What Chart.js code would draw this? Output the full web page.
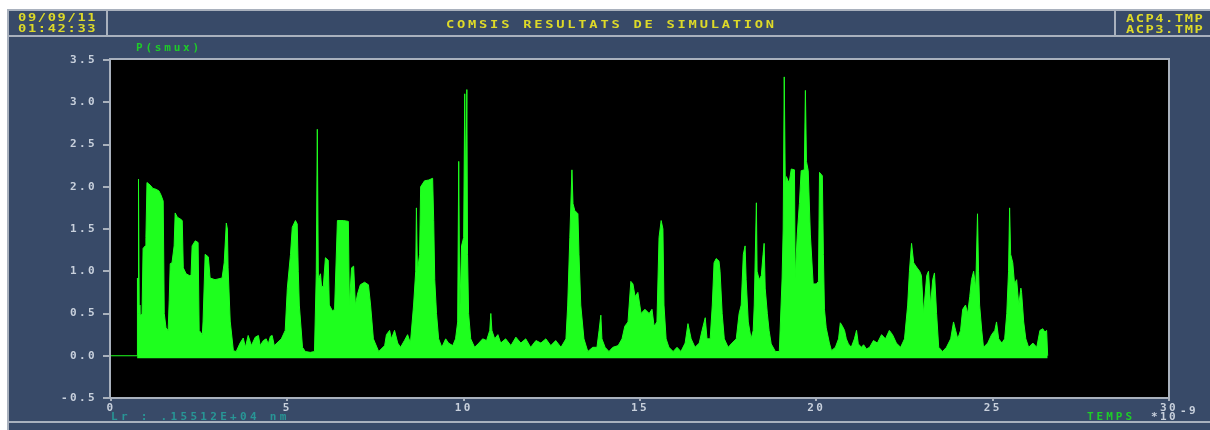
<!DOCTYPE html>
<html>
<head>
<meta charset="utf-8">
<script src="https://cdn.jsdelivr.net/npm/chart.js@4/dist/chart.umd.min.js"></script>
<style>
  body { margin: 0; width: 1210px; height: 430px; overflow: hidden; position: relative; background: #fff;
         font-family: "DejaVu Sans Mono", monospace; font-weight: bold; }
  .abs { position: absolute; white-space: nowrap; }
  #panel { left: 7px; top: 9px; width: 1203px; height: 421px; background: rgb(56,74,104); }
  .rule { background: #a9b1bd; }
  .wide { transform: scaleX(1.25); transform-origin: left top; }
  .yel { color: rgb(222,218,40); font-size: 11px; line-height: 11px; letter-spacing: 1.3px; }
  .grn { color: rgb(30,205,40); font-size: 11px; line-height: 11px; }
  #chart { position: absolute; left: 0; top: 0; }
</style>
</head>
<body>
<div id="panel" class="abs"></div>
<!-- frame lines -->
<div class="abs rule" style="left:7px;top:9px;width:1203px;height:2px"></div>
<div class="abs rule" style="left:7px;top:9px;width:2px;height:421px"></div>
<div class="abs rule" style="left:8px;top:35px;width:1202px;height:2px"></div>
<div class="abs rule" style="left:106px;top:9px;width:2px;height:27px"></div>
<div class="abs rule" style="left:1114px;top:9px;width:2px;height:27px"></div>
<div class="abs rule" style="left:8px;top:421px;width:1202px;height:2px"></div>

<canvas id="chart" width="1210" height="430"></canvas>

<!-- header texts -->
<div class="abs yel wide" style="left:18px;top:12px">09/09/11</div>
<div class="abs yel wide" style="left:18px;top:23px">01:42:33</div>
<div class="abs yel wide" style="left:446px;top:19px;letter-spacing:2.2px">COMSIS RESULTATS DE SIMULATION</div>
<div class="abs yel wide" style="left:1126px;top:13px;letter-spacing:1.2px">ACP4.TMP</div>
<div class="abs yel wide" style="left:1126px;top:24px;letter-spacing:1.2px">ACP3.TMP</div>

<div class="abs grn" style="left:136px;top:42px;letter-spacing:2.8px">P(smux)</div>
<div class="abs" style="left:111px;top:411px;font-size:11px;line-height:11px;letter-spacing:3.3px;color:rgb(40,150,150)">Lr : .15512E+04 nm</div>
<div class="abs grn" style="left:1087px;top:411px;letter-spacing:3px">TEMPS</div>
<div class="abs" style="left:1151px;top:411px;font-size:11px;line-height:11px;letter-spacing:2.4px;color:#c8d0dc">*10</div>
<div class="abs" style="left:1180px;top:405px;font-size:11px;line-height:11px;letter-spacing:2.4px;color:#c8d0dc">-9</div>

<script>
// temps (ns) and P(smux)
const baseTimes = [0, 0.74];
const baseValues = [0, 0];

const timeNs = [
  0.74, 0.75, 0.77, 0.78, 0.80, 0.82, 0.88, 0.91, 0.97, 0.99, 1.02, 1.11, 1.19, 1.28, 1.36, 1.42, 1.48, 1.51, 1.56, 1.62,
  1.65, 1.68, 1.73, 1.79, 1.82, 1.88, 1.96, 2.02, 2.05, 2.13, 2.22, 2.27, 2.30, 2.39, 2.47, 2.50, 2.59, 2.61, 2.67, 2.76,
  2.81, 2.95, 3.15, 3.21, 3.27, 3.30, 3.32, 3.38, 3.47, 3.55, 3.66, 3.75, 3.81, 3.89, 3.98, 4.09, 4.18, 4.23, 4.32, 4.40,
  4.46, 4.52, 4.57, 4.63, 4.83, 4.94, 5.00, 5.09, 5.14, 5.23, 5.28, 5.31, 5.34, 5.43, 5.51, 5.65, 5.77, 5.82, 5.85, 5.88,
  5.94, 5.97, 6.02, 6.08, 6.16, 6.19, 6.28, 6.34, 6.42, 6.59, 6.73, 6.76, 6.82, 6.88, 6.93, 6.99, 7.07, 7.19, 7.30, 7.36,
  7.44, 7.59, 7.76, 7.81, 7.90, 7.95, 8.04, 8.13, 8.21, 8.32, 8.41, 8.49, 8.58, 8.64, 8.66, 8.69, 8.75, 8.78, 8.89, 9.01,
  9.12, 9.15, 9.18, 9.23, 9.29, 9.38, 9.49, 9.57, 9.69, 9.77, 9.83, 9.86, 9.89, 9.94, 10.00, 10.03, 10.06, 10.09, 10.11, 10.14,
  10.20, 10.31, 10.43, 10.54, 10.65, 10.74, 10.77, 10.80, 10.88, 10.97, 11.05, 11.19, 11.34, 11.48, 11.62, 11.76, 11.90, 12.05, 12.19, 12.33,
  12.47, 12.61, 12.76, 12.90, 12.95, 13.01, 13.07, 13.10, 13.15, 13.24, 13.27, 13.32, 13.41, 13.52, 13.66, 13.78, 13.84, 13.89, 13.92, 14.01,
  14.12, 14.23, 14.38, 14.49, 14.57, 14.66, 14.74, 14.80, 14.86, 14.94, 15.03, 15.14, 15.26, 15.34, 15.40, 15.48, 15.54, 15.60, 15.65, 15.68,
  15.74, 15.82, 15.94, 16.05, 16.16, 16.28, 16.36, 16.45, 16.56, 16.68, 16.76, 16.85, 16.90, 16.99, 17.05, 17.10, 17.16, 17.24, 17.27, 17.33,
  17.39, 17.50, 17.61, 17.73, 17.81, 17.87, 17.93, 17.98, 18.01, 18.07, 18.15, 18.21, 18.24, 18.30, 18.32, 18.38, 18.44, 18.49, 18.52, 18.55,
  18.61, 18.66, 18.72, 18.84, 18.95, 19.03, 19.06, 19.09, 19.12, 19.15, 19.20, 19.23, 19.29, 19.38, 19.40, 19.46, 19.52, 19.57, 19.66, 19.69,
  19.72, 19.77, 19.83, 19.91, 20.00, 20.06, 20.09, 20.17, 20.20, 20.23, 20.28, 20.37, 20.43, 20.54, 20.63, 20.68, 20.74, 20.80, 20.85, 20.91,
  20.99, 21.08, 21.14, 21.19, 21.28, 21.34, 21.42, 21.51, 21.62, 21.73, 21.85, 21.96, 22.07, 22.16, 22.27, 22.39, 22.50, 22.59, 22.64, 22.70,
  22.76, 22.84, 22.93, 22.98, 23.04, 23.13, 23.18, 23.24, 23.30, 23.35, 23.41, 23.47, 23.58, 23.69, 23.81, 23.89, 23.95, 24.01, 24.09, 24.15,
  24.23, 24.29, 24.35, 24.40, 24.46, 24.52, 24.57, 24.60, 24.63, 24.69, 24.74, 24.86, 24.97, 25.06, 25.11, 25.17, 25.26, 25.34, 25.40, 25.45,
  25.48, 25.51, 25.57, 25.62, 25.68, 25.74, 25.80, 25.82, 25.88, 25.94, 26.02, 26.14, 26.25, 26.34, 26.42, 26.48, 26.53, 26.56
];

const powerSmux = [
  0.0, 0.92, 0.5, 2.09, 0.6, 0.47, 0.5, 1.27, 1.3, 1.4, 2.05, 2.02, 1.98, 1.97, 1.95, 1.9, 1.83, 0.5, 0.33, 0.3,
  0.65, 1.09, 1.1, 1.3, 1.69, 1.64, 1.62, 1.6, 1.04, 0.97, 0.95, 0.95, 1.3, 1.36, 1.34, 0.3, 0.25, 0.4, 1.2, 1.17,
  0.92, 0.9, 0.92, 1.1, 1.57, 1.5, 1.04, 0.41, 0.06, 0.05, 0.15, 0.21, 0.1, 0.24, 0.12, 0.22, 0.24, 0.12, 0.18, 0.2,
  0.14, 0.23, 0.24, 0.12, 0.2, 0.3, 0.8, 1.2, 1.52, 1.6, 1.56, 1.0, 0.6, 0.1, 0.05, 0.04, 0.05, 0.97, 2.68, 0.9,
  0.97, 0.82, 0.82, 1.16, 1.13, 0.6, 0.53, 0.55, 1.6, 1.6, 1.59, 0.6, 1.04, 1.06, 0.6, 0.73, 0.84, 0.87, 0.84, 0.6,
  0.2, 0.05, 0.12, 0.25, 0.3, 0.2, 0.3, 0.15, 0.1, 0.18, 0.25, 0.15, 0.6, 1.0, 1.75, 1.0, 1.2, 2.0, 2.07, 2.08,
  2.1, 1.6, 0.9, 0.5, 0.2, 0.1, 0.2, 0.15, 0.12, 0.2, 0.4, 2.3, 0.5, 1.3, 1.4, 3.1, 1.8, 3.15, 1.2, 0.5,
  0.2, 0.1, 0.15, 0.2, 0.18, 0.3, 0.5, 0.3, 0.2, 0.25, 0.15, 0.2, 0.12, 0.22, 0.15, 0.2, 0.1, 0.18, 0.15, 0.2,
  0.12, 0.18, 0.1, 0.2, 0.6, 1.4, 2.2, 1.8, 1.72, 1.68, 1.2, 0.6, 0.2, 0.05, 0.1, 0.1, 0.3, 0.48, 0.2, 0.1,
  0.05, 0.1, 0.12, 0.2, 0.35, 0.4, 0.88, 0.85, 0.7, 0.75, 0.5, 0.55, 0.5, 0.55, 0.35, 0.4, 1.4, 1.6, 1.5, 0.6,
  0.2, 0.1, 0.05, 0.1, 0.05, 0.15, 0.38, 0.2, 0.1, 0.15, 0.3, 0.45, 0.2, 0.2, 0.6, 1.1, 1.15, 1.12, 1.0, 0.5,
  0.2, 0.1, 0.15, 0.2, 0.5, 0.6, 1.2, 1.3, 0.9, 0.4, 0.2, 0.3, 0.6, 1.81, 1.0, 0.9, 0.95, 1.2, 1.33, 0.8,
  0.5, 0.3, 0.14, 0.05, 0.05, 0.92, 1.5, 3.3, 2.0, 2.12, 2.07, 2.05, 2.21, 2.2, 0.92, 1.44, 1.8, 2.19, 2.2, 3.14,
  2.3, 2.19, 1.44, 0.85, 0.85, 0.88, 2.17, 2.13, 1.2, 0.55, 0.33, 0.15, 0.06, 0.1, 0.2, 0.39, 0.35, 0.3, 0.2, 0.14,
  0.1, 0.2, 0.3, 0.14, 0.1, 0.13, 0.08, 0.1, 0.18, 0.15, 0.25, 0.2, 0.3, 0.25, 0.15, 0.1, 0.2, 0.6, 1.0, 1.33,
  1.1, 1.05, 1.0, 0.95, 0.5, 0.95, 1.0, 0.6, 0.9, 0.98, 0.5, 0.1, 0.05, 0.1, 0.2, 0.4, 0.3, 0.2, 0.3, 0.55,
  0.6, 0.5, 0.7, 0.9, 1.0, 0.8, 1.68, 1.0, 0.6, 0.3, 0.1, 0.15, 0.25, 0.3, 0.4, 0.2, 0.15, 0.2, 0.5, 1.0,
  1.75, 1.2, 1.1, 0.85, 0.9, 0.6, 0.8, 0.75, 0.4, 0.2, 0.1, 0.15, 0.1, 0.3, 0.32, 0.28, 0.3, 0.0
];

const yTicks = [-0.5, 0.0, 0.5, 1.0, 1.5, 2.0, 2.5, 3.0, 3.5];
const xTicks = [0, 5, 10, 15, 20, 25, 30];

const GREEN = "rgb(30,255,30)";
const AXIS = "#a9b1bd";
const LABEL = "#c8d0dc";

const plotFrame = {
  id: "plotFrame",
  beforeDraw(chart) {
    const { ctx, chartArea: a } = chart;
    ctx.letterSpacing = "2.4px";
    ctx.save();
    ctx.fillStyle = "#000";
    ctx.fillRect(a.left, a.top, a.right - a.left, a.bottom - a.top);
    ctx.restore();
  },
  afterDraw(chart) {
    const { ctx, chartArea: a } = chart;
    ctx.save();
    ctx.strokeStyle = AXIS;
    ctx.lineWidth = 2;
    ctx.strokeRect(a.left - 1, a.top - 1, a.right - a.left + 1, a.bottom - a.top + 1);
    ctx.restore();
  }
};

const toPts = (xs, ys) => xs.map((x, i) => ({ x: x, y: ys[i] }));
const tickFont = { family: "DejaVu Sans Mono", size: 11, weight: "bold" };

new Chart(document.getElementById("chart"), {
  type: "line",
  data: {
    datasets: [
      {
        data: toPts(baseTimes, baseValues),
        borderColor: GREEN,
        borderWidth: 1,
        pointRadius: 0,
        fill: false,
      },
      {
        data: toPts(timeNs, powerSmux),
        borderColor: GREEN,
        backgroundColor: GREEN,
        borderWidth: 1,
        pointRadius: 0,
        tension: 0,
        fill: { value: -0.03 },
      },
    ],
  },
  options: {
    responsive: false,
    animation: false,
    devicePixelRatio: 1,
    layout: { padding: { left: 0, right: 41, top: 60, bottom: 0 } },
    plugins: { legend: { display: false }, tooltip: { enabled: false } },
    scales: {
      x: {
        type: "linear",
        min: 0,
        max: 30,
        afterBuildTicks: (s) => { s.ticks = xTicks.map((v) => ({ value: v })); },
        afterFit: (s) => { s.height = 32; },
        border: { display: false },
        grid: { drawOnChartArea: false, drawTicks: true, tickLength: 3, color: AXIS, lineWidth: 2 },
        ticks: { color: LABEL, padding: 1, maxRotation: 0, font: tickFont },
      },
      y: {
        min: -0.5,
        max: 3.5,
        afterBuildTicks: (s) => { s.ticks = yTicks.map((v) => ({ value: v })); },
        afterFit: (s) => { s.width = 111; },
        border: { display: false },
        grid: { drawOnChartArea: false, drawTicks: true, tickLength: 8, color: AXIS, lineWidth: 2 },
        ticks: { color: LABEL, padding: 6,
                 callback: (v) => Number(v).toFixed(1),
                 font: tickFont },
      },
    },
  },
  plugins: [plotFrame],
});
</script>
</body>
</html>
